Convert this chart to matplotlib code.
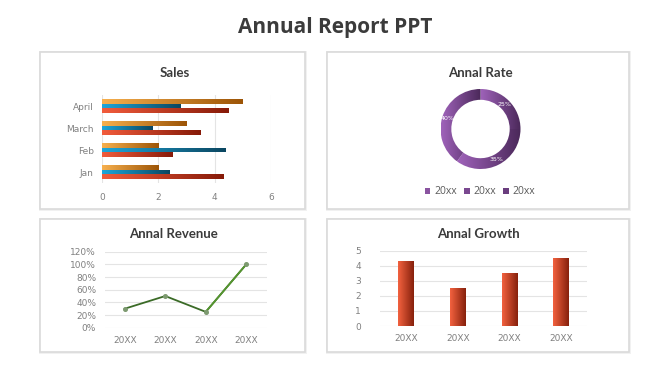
import numpy as np
import matplotlib
matplotlib.use('Agg')
import matplotlib.pyplot as plt
from matplotlib.patches import Rectangle
from matplotlib.colors import LinearSegmentedColormap

# ---- data ----
sales_months = ['Jan', 'Feb', 'March', 'April']
sales_red = [4.3, 2.5, 3.5, 4.5]
sales_blue = [2.4, 4.4, 1.8, 2.8]
sales_orange = [2.0, 2.0, 3.0, 5.0]
sales_ticks = [0, 2, 4, 6]

rate_values = [25, 35, 40]
rate_labels = ['20xx', '20xx', '20xx']

revenue_years = ['20XX', '20XX', '20XX', '20XX']
revenue_values = [0.30, 0.50, 0.25, 1.00]

growth_years = ['20XX', '20XX', '20XX', '20XX']
growth_values = [4.3, 2.5, 3.5, 4.5]

W, H = 670, 376
TICK = '#808080'
TITLE = '#3b3b3b'
GRID = '#e4e4e4'


def fr(x, y, w, h):
    # pixel box (top-left origin) -> figure fraction
    return [x / W, 1 - (y + h) / H, w / W, h / H]


def grad_fill(ax, patch, c0, c1, bbox=None):
    if bbox is None:
        bb = patch.get_bbox()
    else:
        bb = bbox
    cmap = LinearSegmentedColormap.from_list('g', [c0, c1])
    im = ax.imshow(np.linspace(0, 1, 256).reshape(1, -1), cmap=cmap,
                   extent=[bb.x0, bb.x1, bb.y0, bb.y1], aspect='auto',
                   interpolation='bilinear', zorder=patch.get_zorder() + 0.1)
    im.set_clip_path(patch)
    return im


def style_ticks(ax):
    ax.tick_params(length=0, labelsize=6.5, labelcolor=TICK, pad=6)
    ax.patch.set_alpha(0)
    for s in ax.spines.values():
        s.set_visible(False)


fig = plt.figure(figsize=(6.7, 3.76), dpi=100)
fig.patch.set_facecolor('white')

# panels
panels = [(40, 52, 265, 157), (327, 52, 302, 157), (40, 219, 265, 133), (327, 219, 302, 133)]
for (x, y, w, h) in panels:
    fig.add_artist(Rectangle((x / W - 1.5 / W, 1 - (y + h) / H - 1.5 / H), (w + 3) / W, (h + 3) / H,
                             transform=fig.transFigure, facecolor='#f1f1f1', edgecolor='none', zorder=-2))
    fig.add_artist(Rectangle((x / W, 1 - (y + h) / H), w / W, h / H, transform=fig.transFigure,
                             facecolor='white', edgecolor='#dadada', linewidth=1.2, zorder=-1))

fig.text(335 / W, 1 - 28 / H, 'Annual Report PPT', ha='center', va='center',
         fontsize=15, fontweight='bold', color=TITLE, family='Open Sans')

tfont = dict(fontsize=9.5, fontweight='bold', color=TITLE, family='Lato', ha='center', va='center')
fig.text(175 / W, 1 - 73 / H, 'Sales', **tfont)
fig.text(480 / W, 1 - 73 / H, 'Annal Rate', **tfont)
fig.text(173 / W, 1 - 234 / H, 'Annal Revenue', **tfont)
fig.text(478 / W, 1 - 234 / H, 'Annal Growth', **tfont)

# ---- Sales ----
ax = fig.add_axes(fr(102, 95, 169, 88))
y = np.arange(len(sales_months))
bh = 0.2
series = [(sales_orange, 0.21, '#f7b04e', '#9c5406'),
          (sales_blue, 0.0, '#1ea6da', '#0b4660'),
          (sales_red, -0.21, '#f25c3c', '#861a08')]
for vals, off, c0, c1 in series:
    bars = ax.barh(y + off, vals, height=bh, color=c1, edgecolor='none', zorder=2)
    for b in bars:
        grad_fill(ax, b, c0, c1)
ax.set_xlim(0, 6)
ax.set_ylim(-0.5, 3.5)
ax.set_xticks(sales_ticks)
ax.set_yticks(y)
ax.set_yticklabels(sales_months)
ax.grid(axis='x', color=GRID, linewidth=0.8, zorder=0)
ax.set_axisbelow(True)
style_ticks(ax)
ax.tick_params(axis='x', pad=7)

# ---- Annal Rate ----
ax = fig.add_axes(fr(440.5, 89, 80, 80))
wedges, _, autotexts = ax.pie(rate_values, startangle=90, counterclock=False, radius=1,
                              autopct='%d%%', pctdistance=0.86,
                              wedgeprops=dict(width=0.27, edgecolor='white', linewidth=1.2),
                              textprops=dict(color='white', fontsize=4.5))
for wdg in wedges:
    wdg.set_facecolor('#6d3f82')
    grad_fill(ax, wdg, '#a063bb', '#4a2859', bbox=wdg.get_path().get_extents())
for t in autotexts:
    t.set_zorder(5)
ax.set_xlim(-1, 1)
ax.set_ylim(-1, 1)
ax.set_aspect('equal')
ax.axis('off')
legend_colors = ['#8a54a0', '#7a4890', '#6a3d7e']
handles = [Rectangle((0, 0), 1, 1, facecolor=c) for c in legend_colors]
fig.legend(handles, rate_labels, loc='center', bbox_to_anchor=(480 / W, 1 - 192 / H), ncol=3,
           frameon=False, labelcolor='#5a5a5a', handlelength=0.55, handleheight=0.55,
           handletextpad=0.35, columnspacing=0.7, prop=dict(family='Open Sans', size=7.5))

# ---- Annal Revenue ----
ax = fig.add_axes(fr(104.5, 251.7, 162, 76))
x = np.arange(len(revenue_years))
ax.plot(x, revenue_values, color='#3b6b27', linewidth=1.3, zorder=3)
ax.plot(x[-2:], revenue_values[-2:], color='#55952f', linewidth=1.3, zorder=3)
ax.plot(x, revenue_values, linestyle='none', marker='o', markersize=2.6,
        color='#7d9a70', zorder=4)
ax.set_xlim(-0.5, 3.5)
ax.set_ylim(0, 1.2)
ax.set_yticks(np.arange(0, 1.21, 0.2))
ax.set_yticklabels([f'{int(round(v * 100))}%' for v in np.arange(0, 1.21, 0.2)])
ax.set_xticks(x)
ax.set_xticklabels(revenue_years)
ax.grid(axis='y', color=GRID, linewidth=0.8, zorder=0)
ax.set_axisbelow(True)
style_ticks(ax)

# ---- Annal Growth ----
ax = fig.add_axes(fr(380.3, 250.7, 206.5, 75.3))
x = np.arange(len(growth_years))
bars = ax.bar(x, growth_values, width=0.3, color='#8a2410', edgecolor='none', zorder=2)
for b in bars:
    grad_fill(ax, b, '#f3623f', '#86200c')
ax.set_xlim(-0.5, 3.5)
ax.set_ylim(0, 5)
ax.set_yticks(range(0, 6))
ax.set_xticks(x)
ax.set_xticklabels(growth_years)
ax.grid(axis='y', color=GRID, linewidth=0.8, zorder=0)
ax.set_axisbelow(True)
style_ticks(ax)
ax.tick_params(axis='y', pad=14)

fig.savefig('out.png', dpi=100, facecolor='white')
